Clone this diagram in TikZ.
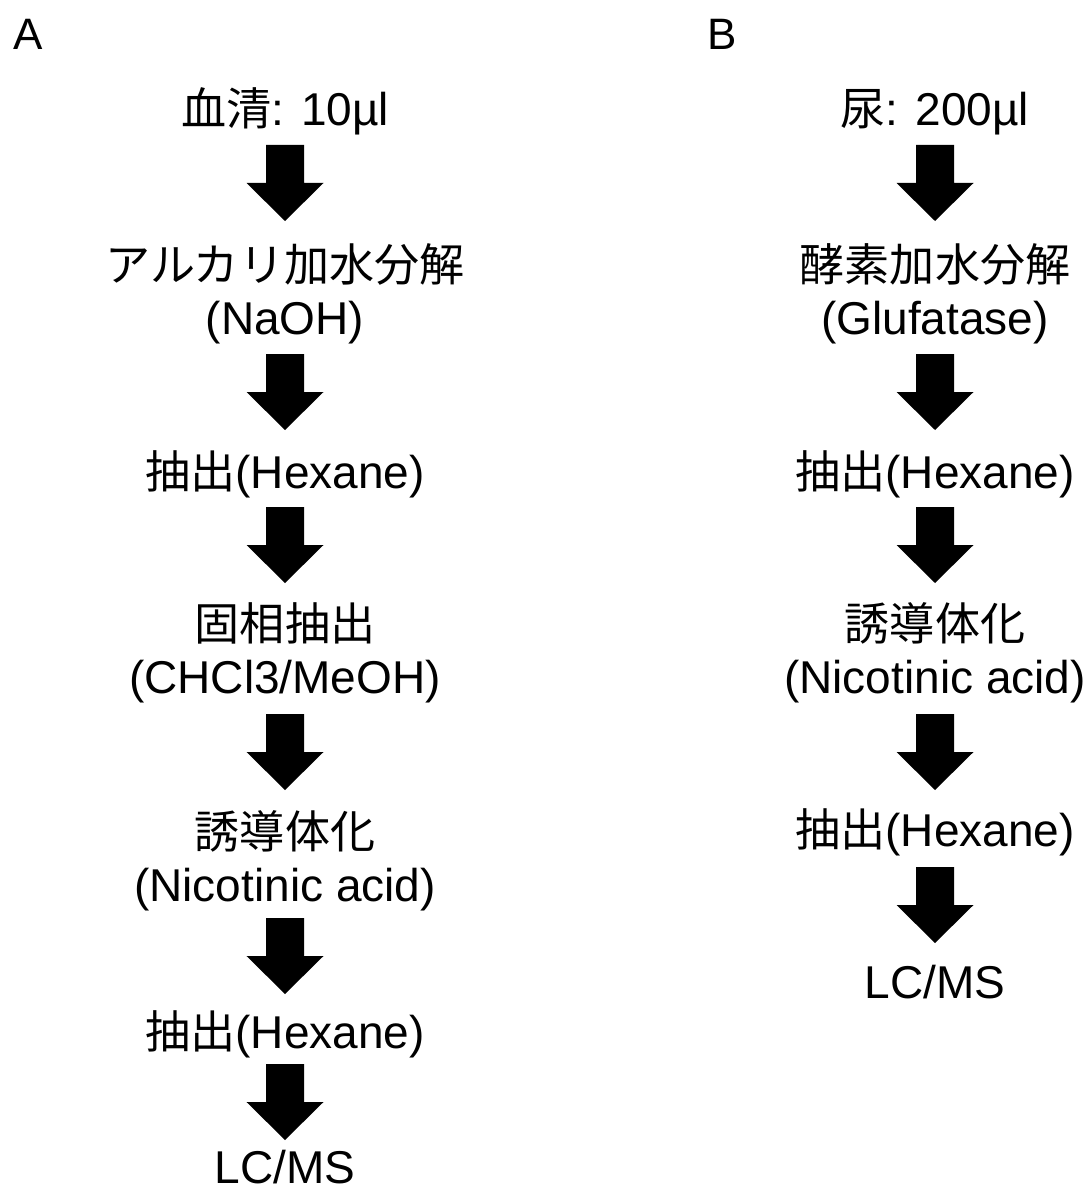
\documentclass[tikz,border=0pt]{standalone}
\usepackage{fontspec}
\setmainfont{Liberation Sans}
\newfontfamily\cjk[Scale=0.98]{Noto Sans CJK JP}
\begin{document}
\begin{tikzpicture}[x=1pt,y=-1pt,
  lbl/.style={anchor=base,inner sep=0pt,align=center,font=\fontsize{46}{53}\selectfont},
  pnl/.style={anchor=base west,inner sep=0pt,font=\fontsize{44}{50}\selectfont},
  barr/.pic={\fill[black] (-19,0) -- (19,0) -- (19,38) -- (38.5,38) -- (0,76) -- (-38.5,38) -- (-19,38) -- cycle;}]
\useasboundingbox (0,0) rectangle (1090,1193);
% panel labels
\node[pnl] (pA) at (13,50) {A};
\node[pnl] (pB) at (707,50) {B};
% column A (two-line nodes are placed by their last line's baseline)
\node[lbl] (a0) at (285,126) {{\cjk 血清}: 10µl};
\node[lbl] (a1) at (285,334) {{\cjk アルカリ加水分解}\\(NaOH)};
\node[lbl] (a2) at (285,488) {{\cjk 抽出}(Hexane)};
\node[lbl] (a3) at (285,693) {{\cjk 固相抽出}\\(CHCl3/MeOH)};
\node[lbl] (a4) at (285,901) {{\cjk 誘導体化}\\(Nicotinic acid)};
\node[lbl] (a5) at (285,1048) {{\cjk 抽出}(Hexane)};
\node[lbl] (a6) at (285,1183) {LC/MS};
\coordinate (ta1) at (285,145);
\coordinate (ta2) at (285,354);
\coordinate (ta3) at (285,507);
\coordinate (ta4) at (285,714);
\coordinate (ta5) at (285,918);
\coordinate (ta6) at (285,1064);
\foreach \c in {ta1,ta2,ta3,ta4,ta5,ta6} \pic at (\c) {barr};
% column B
\node[lbl] (b0) at (935,126) {{\cjk 尿}: 200µl};
\node[lbl] (b1) at (935,334) {{\cjk 酵素加水分解}\\(Glufatase)};
\node[lbl] (b2) at (935,488) {{\cjk 抽出}(Hexane)};
\node[lbl] (b3) at (935,693) {{\cjk 誘導体化}\\(Nicotinic acid)};
\node[lbl] (b4) at (935,846) {{\cjk 抽出}(Hexane)};
\node[lbl] (b5) at (935,998) {LC/MS};
\coordinate (tb1) at (935,145);
\coordinate (tb2) at (935,354);
\coordinate (tb3) at (935,507);
\coordinate (tb4) at (935,714);
\coordinate (tb5) at (935,867);
\foreach \c in {tb1,tb2,tb3,tb4,tb5} \pic at (\c) {barr};
\end{tikzpicture}
\end{document}
